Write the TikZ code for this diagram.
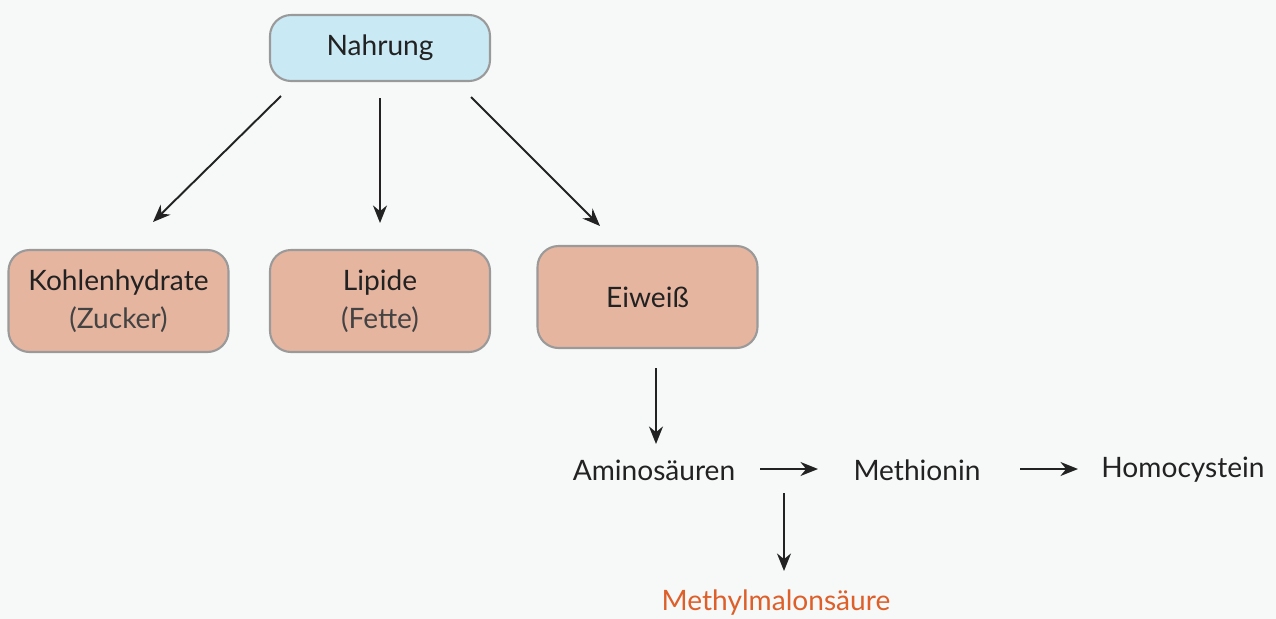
\documentclass[tikz,border=0pt]{standalone}
\usepackage{fontspec}
\setmainfont{Lato}
\usetikzlibrary{arrows.meta}
\definecolor{bg}{HTML}{F7F8F8}
\definecolor{blue1}{HTML}{C9E9F5}
\definecolor{salmon}{HTML}{E6B5A0}
\definecolor{bord}{HTML}{9A9A9A}
\definecolor{txt}{HTML}{222222}
\definecolor{orng}{HTML}{DD5F2A}
\tikzset{
  box/.style={draw=bord, line width=1.2pt, rounded corners=12pt, minimum width=220*0.02cm, minimum height=102*0.02cm, align=center, text=txt, font=\fontsize{16}{21.5}\selectfont},
  lbl/.style={text=txt, font=\fontsize{16}{19}\selectfont},
  arr/.style={draw=txt, line width=1.1pt, -{Stealth[length=10pt,width=8pt]}}
}
\begin{document}
\begin{tikzpicture}[x=0.02cm,y=-0.02cm]
\fill[bg] (0,0) rectangle (1276,619);
\useasboundingbox (0,0) rectangle (1276,619);
\node[box, fill=blue1, minimum height=66*0.02cm] (nahrung) at (380,48) {Nahrung};
\node[box, fill=salmon] (kh) at (118.5,301) {Kohlenhydrate\\{\color{txt!85}(Zucker)}};
\node[box, fill=salmon] (lip) at (380,301) {Lipide\\{\color{txt!85}(Fette)}};
\node[box, fill=salmon] (eiw) at (647.5,297) {Eiweiß};
\node[lbl] (amino) at (654,470) {Aminosäuren};
\node[lbl] (meth) at (917,470) {Methionin};
\node[lbl] (homo) at (1183,470) {Homocystein};
\node[lbl, text=orng] (mma) at (776,603) {Methylmalonsäure};
\coordinate (s1) at (281,96);
\coordinate (e1) at (153,222);
\coordinate (s2) at (380,98);
\coordinate (e2) at (380,223);
\coordinate (s3) at (471,97);
\coordinate (e3) at (600,226);
\coordinate (s4) at (656,368);
\coordinate (e4) at (656,444);
\coordinate (s5) at (760,469);
\coordinate (e5) at (818,469);
\coordinate (s6) at (1020,469);
\coordinate (e6) at (1078,469);
\coordinate (s7) at (784,493);
\coordinate (e7) at (784,571);
\draw[arr] (s1) -- (e1);
\draw[arr] (s2) -- (e2);
\draw[arr] (s3) -- (e3);
\draw[arr] (s4) -- (e4);
\draw[arr] (s5) -- (e5);
\draw[arr] (s6) -- (e6);
\draw[arr] (s7) -- (e7);
\end{tikzpicture}
\end{document}
